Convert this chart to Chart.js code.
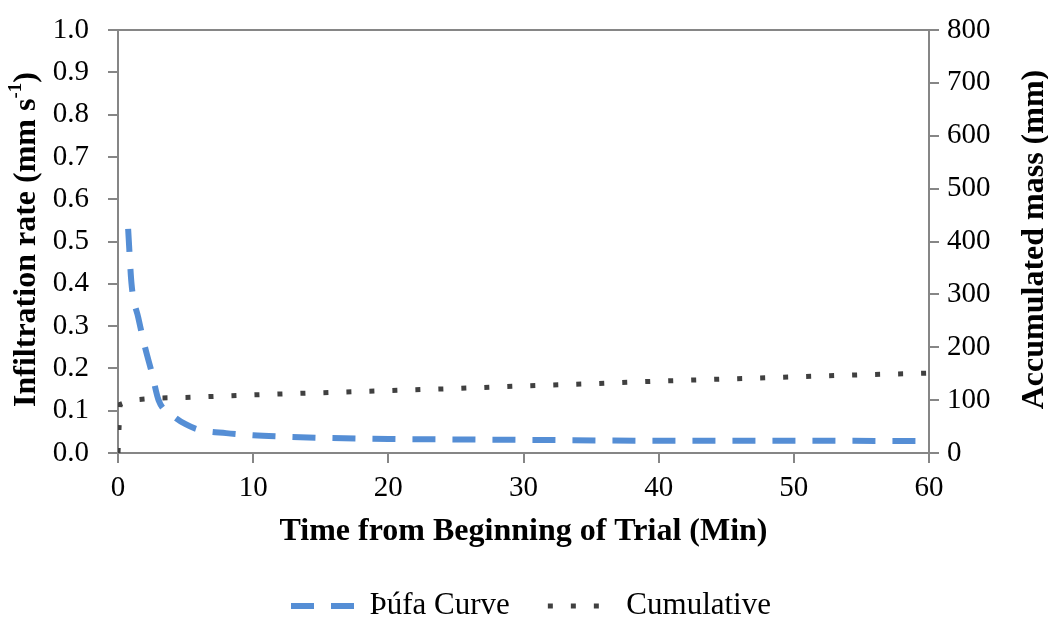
<!DOCTYPE html>
<html>
<head>
<meta charset="utf-8">
<script src="https://cdn.jsdelivr.net/npm/chart.js@4/dist/chart.umd.min.js"></script>
<style>
  html, body { margin: 0; padding: 0; background: #fff; }
  #wrap { width: 1048px; height: 624px; }
</style>
</head>
<body>
<div id="wrap"><canvas id="chart"></canvas></div>
<script>
// Þúfa infiltration curve (mm s-1)
const rateTime = [0.75, 1, 1.5, 2, 2.5, 3, 4, 5, 6, 8, 10, 12, 15, 20, 25, 30, 40, 50, 60];
const rateValues = [0.53, 0.40, 0.32, 0.25, 0.19, 0.125, 0.09, 0.068, 0.055, 0.047, 0.042, 0.039, 0.036, 0.033, 0.032, 0.031, 0.029, 0.029, 0.028];

// cumulative mass (mm)
const cumTime = [0, 0.15, 1, 3, 5, 10, 15, 20, 25, 30, 35, 40, 45, 50, 55, 60];
const cumValues = [0, 92, 100, 104, 105, 110, 114, 118, 122, 127, 131, 136, 140, 144, 148, 151];

const xTicks = [0, 10, 20, 30, 40, 50, 60];
const leftTicks = [0, 0.1, 0.2, 0.3, 0.4, 0.5, 0.6, 0.7, 0.8, 0.9, 1.0];
const rightTicks = [0, 100, 200, 300, 400, 500, 600, 700, 800];

const seriesNames = ['Þúfa Curve', 'Cumulative'];

const FONT = '"Liberation Serif", "Times New Roman", serif';
const AXIS = '#868686';
const TICK_SIZE = 29;
const TITLE_SIZE = 32;

function toPoints(xs, ys) {
    return xs.map((x, i) => ({ x: x, y: ys[i] }));
}

// drop the half-label overhang so the plot box sits where the reference has it
function noVertPad(scale) {
    scale.paddingTop = 0;
    scale.paddingBottom = 0;
}

// legend in the reference sits a little right of centre
const nudgeLegend = {
    id: 'nudgeLegend',
    afterLayout(chart) {
        chart.legend.left += 7;
        chart.legend.right += 7;
    }
};

// draws the two vertical titles (left has a superscript, right reads bottom-up)
const yTitles = {
    id: 'yTitles',
    afterDraw(chart) {
        const ctx = chart.ctx;
        const area = chart.chartArea;
        const midY = (area.top + area.bottom) / 2 - 2;
        const big = 'bold ' + TITLE_SIZE + 'px ' + FONT;
        const small = 'bold 19px ' + FONT;
        ctx.save();
        ctx.fillStyle = '#000';
        ctx.textBaseline = 'middle';

        // left title
        ctx.save();
        ctx.translate(27, midY);
        ctx.rotate(-Math.PI / 2);
        const main = 'Infiltration rate (mm s';
        const sup = '-1';
        const close = ')';
        ctx.font = big;
        const w1 = ctx.measureText(main).width;
        const w3 = ctx.measureText(close).width;
        ctx.font = small;
        const w2 = ctx.measureText(sup).width;
        let x = -(w1 + w2 + w3) / 2;
        ctx.textAlign = 'left';
        ctx.font = big;
        ctx.fillText(main, x, 0);
        x += w1;
        ctx.font = small;
        ctx.fillText(sup, x, -11);
        x += w2;
        ctx.font = big;
        ctx.fillText(close, x, 0);
        ctx.restore();

        // right title
        ctx.save();
        ctx.translate(1035, midY);
        ctx.rotate(-Math.PI / 2);
        ctx.font = big;
        ctx.textAlign = 'center';
        ctx.fillText('Accumulated mass (mm)', 0, 0);
        ctx.restore();

        ctx.restore();
    }
};

const ctx = document.getElementById('chart');

new Chart(ctx, {
    type: 'line',
    data: {
        datasets: [
            {
                label: seriesNames[0],
                data: toPoints(rateTime, rateValues),
                xAxisID: 'x',
                yAxisID: 'y',
                borderColor: '#558ed5',
                backgroundColor: '#558ed5',
                borderWidth: 6,
                borderDash: [23, 17],
                borderCapStyle: 'butt',
                pointRadius: 0,
                cubicInterpolationMode: 'monotone',
                fill: false
            },
            {
                label: seriesNames[1],
                data: toPoints(cumTime, cumValues),
                xAxisID: 'x',
                yAxisID: 'y1',
                borderColor: '#404040',
                backgroundColor: '#404040',
                borderWidth: 5,
                borderDash: [5, 18],
                borderCapStyle: 'butt',
                pointRadius: 0,
                tension: 0,
                fill: false
            }
        ]
    },
    options: {
        responsive: true,
        maintainAspectRatio: false,
        animation: false,
        layout: {
            padding: { top: 22, left: 0, right: 0, bottom: -7.5 }
        },
        plugins: {
            legend: {
                position: 'bottom',
                labels: {
                    color: '#000',
                    font: { family: FONT, size: 31 },
                    usePointStyle: true,
                    pointStyle: 'line',
                    pointStyleWidth: 63,
                    padding: 38,
                    boxHeight: 6,
                    generateLabels: chart => {
                        const items = Chart.defaults.plugins.legend.labels.generateLabels(chart);
                        items.forEach(item => {
                            const ds = chart.data.datasets[item.datasetIndex];
                            item.lineDash = ds.borderDash;
                            item.lineWidth = ds.borderWidth;
                            item.strokeStyle = ds.borderColor;
                            item.lineCap = 'butt';
                        });
                        return items;
                    }
                }
            },
            tooltip: { enabled: false }
        },
        scales: {
            x: {
                type: 'linear',
                position: 'bottom',
                min: 0,
                max: 60,
                afterBuildTicks: scale => { scale.ticks = xTicks.map(v => ({ value: v })); },
                afterFit: scale => { scale.height = 99.5; },
                ticks: {
                    color: '#000',
                    font: { family: FONT, size: TICK_SIZE },
                    padding: 8,
                    maxRotation: 0
                },
                grid: {
                    drawOnChartArea: false,
                    drawTicks: true,
                    tickLength: 10,
                    color: AXIS,
                    lineWidth: 2
                },
                border: { display: true, color: AXIS, width: 2 },
                title: {
                    display: true,
                    text: 'Time from Beginning of Trial (Min)',
                    color: '#000',
                    font: { family: FONT, size: TITLE_SIZE, weight: 'bold' },
                    padding: { top: 0, bottom: 2 }
                }
            },
            xTop: {
                type: 'linear',
                position: 'top',
                min: 0,
                max: 60,
                ticks: { display: false },
                grid: { display: false },
                border: { display: true, color: AXIS, width: 2 }
            },
            y: {
                type: 'linear',
                position: 'left',
                min: 0,
                max: 1,
                afterBuildTicks: scale => { scale.ticks = leftTicks.map(v => ({ value: v })); },
                afterFit: scale => { scale.width = 118; noVertPad(scale); },
                ticks: {
                    color: '#000',
                    font: { family: FONT, size: TICK_SIZE },
                    padding: 19,
                    callback: v => v.toFixed(1)
                },
                grid: {
                    drawOnChartArea: false,
                    drawTicks: true,
                    tickLength: 10,
                    color: AXIS,
                    lineWidth: 2
                },
                border: { display: true, color: AXIS, width: 2 }
            },
            y1: {
                type: 'linear',
                position: 'right',
                min: 0,
                max: 800,
                afterBuildTicks: scale => { scale.ticks = rightTicks.map(v => ({ value: v })); },
                afterFit: scale => { scale.width = 119; noVertPad(scale); },
                ticks: {
                    color: '#000',
                    font: { family: FONT, size: TICK_SIZE },
                    padding: 8
                },
                grid: {
                    drawOnChartArea: false,
                    drawTicks: true,
                    tickLength: 10,
                    color: AXIS,
                    lineWidth: 2
                },
                border: { display: true, color: AXIS, width: 2 }
            }
        }
    },
    plugins: [yTitles, nudgeLegend]
});
</script>
</body>
</html>
